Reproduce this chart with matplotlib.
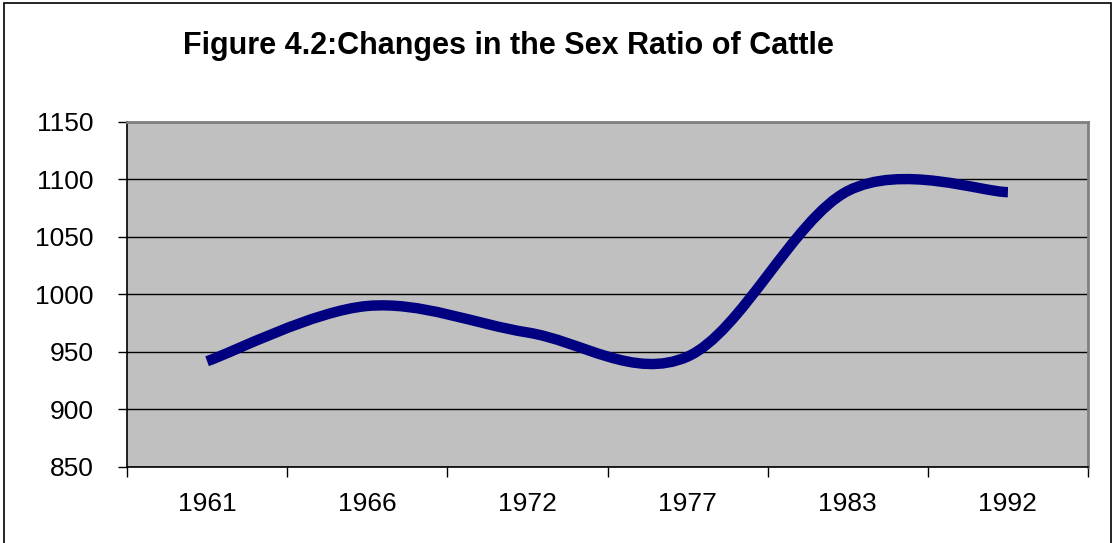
import numpy as np
import matplotlib
matplotlib.use('Agg')
import matplotlib.pyplot as plt
from matplotlib.path import Path
from matplotlib.patches import PathPatch, Rectangle

# data
years = ['1961', '1966', '1972', '1977', '1983', '1992']
sex_ratio = [942, 990, 967, 946, 1090, 1089]
y_ticks = [850, 900, 950, 1000, 1050, 1100, 1150]

LineCol = '#000080'
AreaCol = '#C0C0C0'

plt.rcParams['font.family'] = ['Liberation Sans', 'DejaVu Sans']

fig = plt.figure(figsize=(11.15, 5.43), dpi=100)
ax = fig.add_axes([127/1115, 1 - 467/543, (1088 - 127)/1115, (467 - 122)/543])
ax.set_facecolor(AreaCol)

xs = np.arange(len(years), dtype=float)
ys = np.array(sex_ratio, dtype=float)

# Excel-style smoothed line: cubic bezier through the points (catmull-rom tangents)
verts = [(xs[0], ys[0])]
codes = [Path.MOVETO]
n = len(xs)
for i in range(n - 1):
    p_prev = np.array([xs[max(i - 1, 0)], ys[max(i - 1, 0)]])
    p0 = np.array([xs[i], ys[i]])
    p1 = np.array([xs[i + 1], ys[i + 1]])
    p_next = np.array([xs[min(i + 2, n - 1)], ys[min(i + 2, n - 1)]])
    c1 = p0 + (p1 - p_prev) / 6
    c2 = p1 - (p_next - p0) / 6
    verts += [tuple(c1), tuple(c2), tuple(p1)]
    codes += [Path.CURVE4] * 3
ax.add_patch(PathPatch(Path(verts, codes), facecolor='none', edgecolor=LineCol,
                       linewidth=7.5, capstyle='butt', joinstyle='round', zorder=3))

ax.set_xlim(-0.5, n - 0.5)
ax.set_ylim(850, 1150)
ax.set_yticks(y_ticks)
ax.set_yticklabels([str(v) for v in y_ticks])
ax.yaxis.grid(True, color='black', linewidth=1)
ax.set_axisbelow(True)

# tick marks at category boundaries, labels centred in the categories
ax.set_xticks(np.arange(-0.5, n, 1.0))
ax.set_xticklabels([''] * (n + 1))
ax.set_xticks(xs, minor=True)
ax.set_xticklabels(years, minor=True)
ax.tick_params(axis='x', which='major', direction='out', length=7, width=1, color='black')
ax.tick_params(axis='x', which='minor', length=0, pad=18, labelsize=19)
ax.tick_params(axis='y', direction='out', length=6.5, width=1, pad=17.5, labelsize=19)

for s in ['left', 'bottom']:
    ax.spines[s].set_color('black')
    ax.spines[s].set_linewidth(1.2)
for s in ['top', 'right']:
    ax.spines[s].set_color('#808080')
    ax.spines[s].set_linewidth(2)

fig.text(508/1115, 1 - 46/543, 'Figure 4.2:Changes in the Sex Ratio of Cattle',
         ha='center', va='center', fontsize=22, fontweight='bold')

# chart border
fig.patches.append(Rectangle((4/1115, -0.1), 1107/1115, 1.1 - 3/543,
                             transform=fig.transFigure, fill=False,
                             edgecolor='black', linewidth=1.2))

plt.savefig('out.png', dpi=100)
